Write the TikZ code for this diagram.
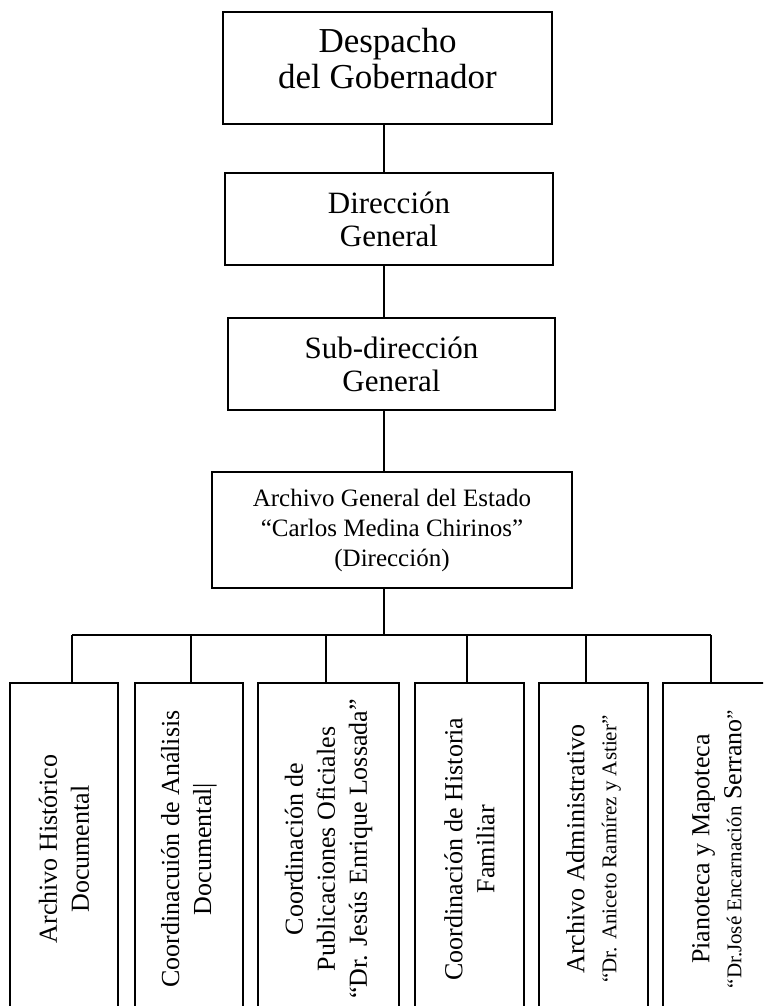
\documentclass[tikz,border=0pt]{standalone}
\usepackage{fontspec}
\setmainfont{Liberation Serif}
\tikzset{
  orgbox/.style={draw, line width=1.6pt, align=center, inner sep=0pt},
  unitbox/.style={draw, line width=1.6pt, align=center, inner sep=0pt, rotate=90,
    minimum width=332pt, minimum height=108pt, font=\fontsize{26}{32}\selectfont},
  link/.style={line width=1.6pt}
}

\begin{document}
\begin{tikzpicture}[x=1pt,y=-1pt]
				\useasboundingbox (0,0) rectangle (763,1006);
				\clip (0,0) rectangle (763,1006);
				
				\node[orgbox, minimum width=329pt, minimum height=112pt, text depth=19pt, font=\fontsize{35}{36}\selectfont] (desp) at (387.5, 68) {Despacho\\del Gobernador};
				\node[orgbox, minimum width=328pt, minimum height=92pt, font=\fontsize{31}{33}\selectfont] (dir) at (389, 219) {Dirección\\General};
				\node[orgbox, minimum width=327pt, minimum height=92pt, font=\fontsize{31}{33}\selectfont] (sub) at (391.5, 364) {Sub-dirección\\General};
				\node[orgbox, minimum width=360pt, minimum height=116pt, font=\fontsize{25}{30}\selectfont] (arch) at (392, 530) {Archivo General del Estado\\“Carlos Medina Chirinos”\\(Dirección)};
				
				\node[unitbox] (hist) at (64, 849) {Archivo Histórico\\Documental};
				\node[unitbox] (anal) at (189, 849) {Coordinacuión de Análisis\\Documental|};
				\node[unitbox, minimum height=141pt] (publ) at (328.5, 849) {Coordinación de\\Publicaciones Oficiales\\“Dr. Jesús Enrique Lossada”};
				\node[unitbox, minimum height=109pt] (fam) at (469.5, 849) {Coordinación de Historia\\Familiar};
				\node[unitbox, minimum height=109pt] (adm) at (593.5, 849) {Archivo Administrativo\\{\fontsize{21}{32}\selectfont “Dr. Aniceto Ramírez y Astier”}};
				\node[unitbox] (map) at (717, 849) {Pianoteca y Mapoteca\\{\fontsize{21}{32}\selectfont “Dr.José Encarnación} Serrano{\fontsize{21}{32}\selectfont ”}};
				
				\coordinate (spine) at (384, 0);
				\coordinate (busL) at (72, 635);
				\coordinate (busR) at (711, 635);
				
				\draw[link] (desp.south -| spine) -- (dir.north -| spine);
				\draw[link] (dir.south -| spine) -- (sub.north -| spine);
				\draw[link] (sub.south -| spine) -- (arch.north -| spine);
				\draw[link] (arch.south -| spine) -- (spine |- busL);
				\draw[link] (busL) -- (busR);
				
				\foreach \n/\x in {hist/72, anal/191, publ/326, fam/467, adm/586, map/711}
					\draw[link] (\x, 635) -- (\n.east -| \x, 0);
			\end{tikzpicture}
\end{document}
